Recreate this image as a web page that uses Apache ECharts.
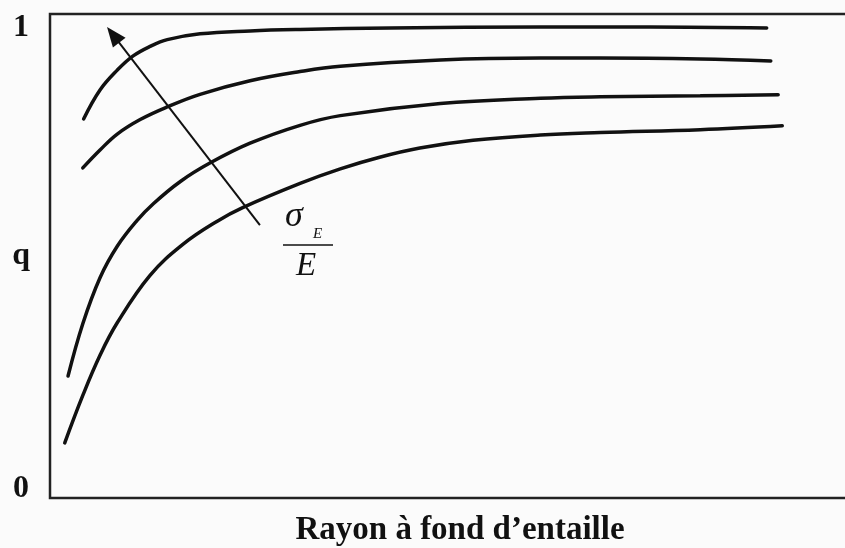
<!DOCTYPE html>
<html>
<head>
<meta charset="utf-8">
<script src="https://cdn.jsdelivr.net/npm/echarts@6/dist/echarts.min.js"></script>
<style>
  html, body { margin: 0; padding: 0; background: #fbfbfb; }
  #chart { width: 845px; height: 548px; }
</style>
</head>
<body>
<div id="chart"></div>
<script>
// q en fonction du rayon a fond d'entaille, pour 4 valeurs de sigma_E / E
var rayon1 = [4.1, 6.1, 8.2, 10.1, 12.2, 14.3, 18.3, 24.4, 30.5, 41.5, 59.8, 73.2, 87.4];
var q1 = [0.783, 0.843, 0.884, 0.913, 0.933, 0.947, 0.959, 0.965, 0.968, 0.971, 0.973, 0.973, 0.971];

var rayon2 = [4.0, 6.1, 8.2, 11.0, 14.3, 18.3, 24.4, 30.5, 35.4, 47.6, 59.8, 67.1, 79.3, 87.9];
var q2 = [0.682, 0.719, 0.752, 0.782, 0.808, 0.834, 0.862, 0.881, 0.892, 0.905, 0.909, 0.909, 0.907, 0.903];

var rayon3 = [2.2, 4.0, 6.1, 8.2, 10.6, 12.6, 15.9, 19.5, 24.4, 30.5, 35.4, 47.6, 59.8, 67.1, 79.3, 88.8];
var q3 = [0.252, 0.360, 0.455, 0.520, 0.573, 0.608, 0.654, 0.692, 0.733, 0.770, 0.790, 0.815, 0.826, 0.829, 0.831, 0.833];

var rayon4 = [1.8, 4.0, 6.1, 8.2, 12.2, 16.2, 20.4, 23.5, 30.5, 35.4, 40.2, 45.1, 51.6, 59.8, 67.1, 79.3, 89.3];
var q4 = [0.114, 0.212, 0.295, 0.362, 0.460, 0.524, 0.572, 0.600, 0.650, 0.680, 0.704, 0.723, 0.739, 0.750, 0.755, 0.761, 0.769];

// fleche : sens croissant de sigma_E / E
var flecheDebut = [25.6, 0.564];
var flecheFin = [7.7, 0.957];

var yTicks = ['0', '1'];

var serif = '"Liberation Serif", "DejaVu Serif", serif';

function pairs(xs, ys) {
    var out = [];
    for (var i = 0; i < xs.length; i++) {
        out.push([xs[i], ys[i]]);
    }
    return out;
}

function courbe(xs, ys) {
    return {
        type: 'line',
        data: pairs(xs, ys),
        smooth: 0.4,
        showSymbol: false,
        symbol: 'none',
        silent: true,
        lineStyle: { color: '#111', width: 3.5, cap: 'round' }
    };
}

var myChart = echarts.init(document.getElementById('chart'));

var series = [
    courbe(rayon1, q1),
    courbe(rayon2, q2),
    courbe(rayon3, q3),
    courbe(rayon4, q4)
];
series[0].markLine = {
    silent: true,
    symbol: ['none', 'triangle'],
    symbolSize: [16, 20],
    label: { show: false },
    lineStyle: { color: '#111', width: 2, type: 'solid' },
    data: [[{ coord: flecheDebut }, { coord: flecheFin }]]
};

option = {
    backgroundColor: '#fbfbfb',
    animation: false,
    grid: {
        show: true,
        left: 50,
        top: 14,
        bottom: 50,
        right: -25,
        containLabel: false,
        outerBoundsMode: 'none',
        borderColor: '#222',
        borderWidth: 2.5,
        backgroundColor: 'transparent'
    },
    xAxis: {
        type: 'value',
        min: 0,
        max: 100,
        name: 'Rayon à fond d’entaille',
        nameLocation: 'middle',
        nameGap: 16,
        nameMoveOverlap: false,
        nameTextStyle: { fontFamily: serif, fontWeight: 'bold', fontSize: 33, color: '#111' },
        axisLine: { show: false },
        axisTick: { show: false },
        axisLabel: { show: false },
        splitLine: { show: false }
    },
    yAxis: {
        type: 'value',
        min: 0,
        max: 1,
        interval: 1,
        name: 'q',
        nameLocation: 'middle',
        nameRotate: 0,
        nameGap: 20,
        nameMoveOverlap: false,
        nameTextStyle: { fontFamily: serif, fontWeight: 'bold', fontSize: 32, color: '#111', padding: [8, 0, 0, 0] },
        axisLine: { show: false },
        axisTick: { show: false },
        splitLine: { show: false },
        axisLabel: {
            margin: 21,
            formatter: function (v) {
                return v === 0 ? '{bas|' + yTicks[0] + '}' : '{haut|' + yTicks[1] + '}';
            },
            rich: {
                bas: { fontFamily: serif, fontWeight: 'bold', fontSize: 32, color: '#111', padding: [0, 0, 18, 0] },
                haut: { fontFamily: serif, fontWeight: 'bold', fontSize: 32, color: '#111', padding: [28, 0, 0, 0] }
            }
        }
    },
    graphic: [
        { type: 'text', left: 285, top: 199, style: { text: 'σ', font: 'italic 36px ' + serif, fill: '#111' } },
        { type: 'text', left: 313, top: 227, style: { text: 'E', font: 'italic 15px ' + serif, fill: '#111' } },
        { type: 'line', shape: { x1: 283, y1: 245, x2: 333, y2: 245 }, style: { stroke: '#111', lineWidth: 1.5 } },
        { type: 'text', left: 296, top: 250, style: { text: 'E', font: 'italic 33px ' + serif, fill: '#111' } }
    ],
    series: series
};
myChart.setOption(option);
</script>
</body>
</html>
